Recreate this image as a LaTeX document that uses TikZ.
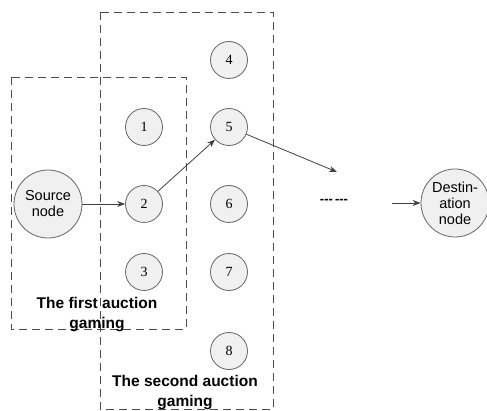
\documentclass[tikz,border=0pt]{standalone}
\usepackage{fontspec}
\setmainfont{Liberation Sans}
\newfontfamily\numfont{Liberation Serif}
\usetikzlibrary{arrows.meta}
\begin{document}
\begin{tikzpicture}[x=1pt,y=-1pt,
  small/.style={circle,draw=black!60,line width=0.8pt,fill=black!6,minimum size=37pt,inner sep=0pt,font=\numfont\fontsize{14}{14}\selectfont},
  big/.style={circle,draw=black!60,line width=0.8pt,fill=black!6,minimum size=68pt,inner sep=0pt,align=center,font=\fontsize{14.5}{16}\selectfont},
  group/.style={draw=black!70,dash pattern=on 8pt off 5pt,line width=0.8pt},
  glabel/.style={font=\bfseries\fontsize{15.5}{20}\selectfont,align=center},
  conn/.style={draw=black!75,line width=0.8pt,-{Stealth[length=8pt,width=6pt]}}]
\useasboundingbox (0,0) rectangle (487,411);
\draw[group] (11,77) rectangle (186,329);
\draw[group] (100,12) rectangle (273,409);
\node[big] (src) at (48,204) {Source\\node};
\node[big] (dst) at (455,203) {Destin-\\ation\\node};
\node[small] (n1) at (144,127) {1};
\node[small] (n2) at (144,204) {2};
\node[small] (n3) at (144,272) {3};
\node[small] (n4) at (229,60) {4};
\node[small] (n5) at (229,127) {5};
\node[small] (n6) at (229,204) {6};
\node[small] (n7) at (229,272) {7};
\node[small] (n8) at (229,351) {8};
\node[font=\bfseries\fontsize{13}{13}\selectfont] (dots) at (334,201) {-{}-{}-\,-{}-{}-};
\coordinate (e5) at (337,172);
\coordinate (sdst) at (392,203);
\draw[conn] (src) -- (n2);
\draw[conn] (n2) -- (n5);
\draw[conn] (n5) -- (e5);
\draw[conn] (sdst) -- (dst);
\node[glabel] (l1) at (97,315) {The first auction\\gaming};
\node[glabel] (l2) at (185,393) {The second auction\\gaming};
\end{tikzpicture}
\end{document}
